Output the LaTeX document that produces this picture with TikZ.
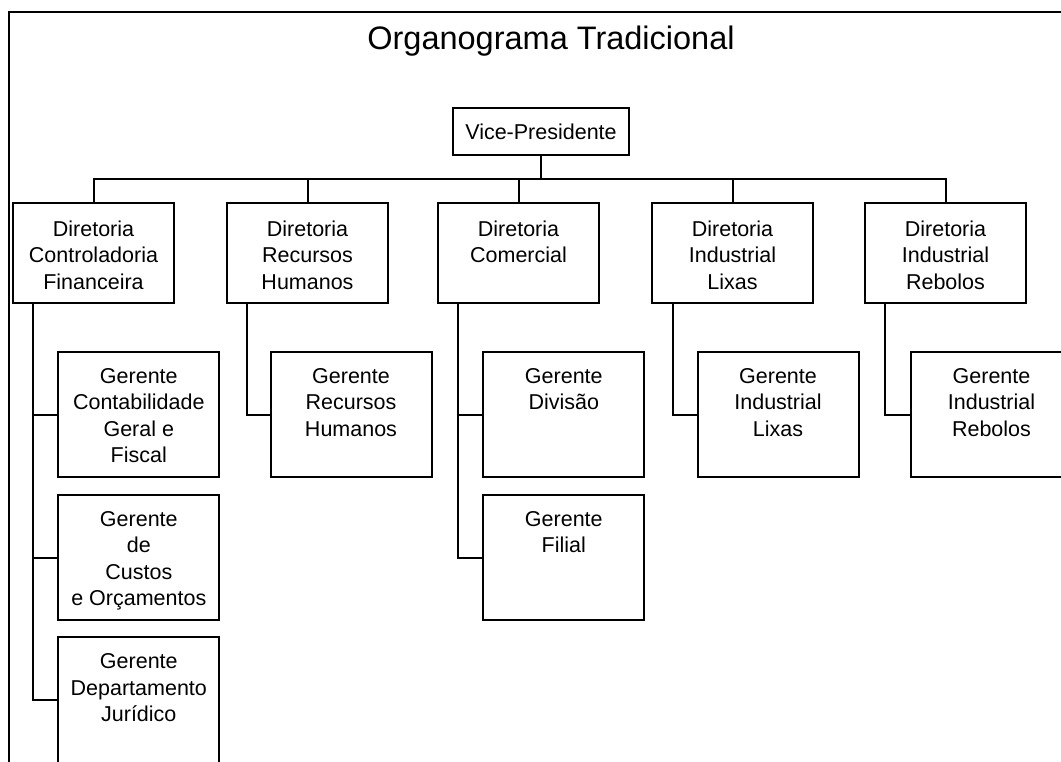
\documentclass[tikz,border=0pt]{standalone}
\usepackage{fontspec}
\setmainfont{Liberation Sans}
\begin{document}
\begin{tikzpicture}[x=1pt, y=-1pt,
  every node/.style={inner sep=0pt, outer sep=0pt},
  frame/.style={draw, line width=2pt},
  box/.style={draw, line width=2pt, fill=white},
  vpbox/.style={box, minimum width=176pt, minimum height=47pt,
    font=\fontsize{21.5}{26.5}\selectfont},
  dirbox/.style={box, minimum width=161pt, minimum height=100pt},
  mgrbox/.style={box, minimum width=161pt, minimum height=125.5pt},
  lbl/.style={align=center, anchor=north, font=\fontsize{21.5}{26.5}\selectfont},
  conn/.style={draw, line width=2pt},
  title/.style={anchor=base, font=\fontsize{32.5}{38}\selectfont}
]
\useasboundingbox (0,0) rectangle (1061,762);
\clip (0,0) rectangle (1061,762);

% outer frame (runs past the page on the right and at the bottom)
\draw[frame] (8.5,12) rectangle (1090,800);

% title
\node[title] (title) at (551,50) {Organograma Tradicional};

% top level
\node[vpbox] (vp) at (541,131.5) {Vice-Presidente};
\coordinate (bus) at (541,179.5);

% directorates
\node[dirbox] (dcf) at (93.5,253) {};
\node[dirbox] (drh) at (307.5,253) {};
\node[dirbox] (dco) at (518.5,253) {};
\node[dirbox] (dil) at (732.5,253) {};
\node[dirbox] (dir) at (945.5,253) {};

\node[lbl] (dcf-t) at ([yshift=-17.5pt]dcf.north) {Diretoria\\Controladoria\\Financeira};
\node[lbl] (drh-t) at ([yshift=-17.5pt]drh.north) {Diretoria\\Recursos\\Humanos};
\node[lbl] (dco-t) at ([yshift=-17.5pt]dco.north) {Diretoria\\Comercial};
\node[lbl] (dil-t) at ([yshift=-17.5pt]dil.north) {Diretoria\\Industrial\\Lixas};
\node[lbl] (dir-t) at ([yshift=-17.5pt]dir.north) {Diretoria\\Industrial\\Rebolos};

% managers
\node[mgrbox] (gcg) at (138.8,414.5) {};
\node[mgrbox] (gco) at (138.8,557.5) {};
\node[mgrbox] (gdj) at (138.8,700) {};
\node[mgrbox] (grh) at (351,414.5) {};
\node[mgrbox] (gdv) at (563.8,414.5) {};
\node[mgrbox] (gfl) at (563.8,557.5) {};
\node[mgrbox] (gil) at (778,414.5) {};
\node[mgrbox] (gir) at (991.5,414.5) {};

\node[lbl] (gcg-t) at ([yshift=-16.5pt]gcg.north) {Gerente\\Contabilidade\\Geral e\\Fiscal};
\node[lbl] (gco-t) at ([yshift=-16.5pt]gco.north) {Gerente\\de\\Custos\\e Orçamentos};
\node[lbl] (gdj-t) at ([yshift=-16.5pt]gdj.north) {Gerente\\Departamento\\Jurídico};
\node[lbl] (grh-t) at ([yshift=-16.5pt]grh.north) {Gerente\\Recursos\\Humanos};
\node[lbl] (gdv-t) at ([yshift=-16.5pt]gdv.north) {Gerente\\Divisão};
\node[lbl] (gfl-t) at ([yshift=-16.5pt]gfl.north) {Gerente\\Filial};
\node[lbl] (gil-t) at ([yshift=-16.5pt]gil.north) {Gerente\\Industrial\\Lixas};
\node[lbl] (gir-t) at ([yshift=-16.5pt]gir.north) {Gerente\\Industrial\\Rebolos};

% vice-president to directorates
\draw[conn] (vp.south) -- (bus);
\foreach \d in {dcf,drh,dco,dil,dir}
  \draw[conn] (\d.north) |- (bus);

% directorates to managers
\draw[conn] ([xshift=-60.5pt]dcf.south) |- (gcg.west);
\draw[conn] ([xshift=-60.5pt]dcf.south) |- (gco.west);
\draw[conn] ([xshift=-60.5pt]dcf.south) |- (gdj.west);
\draw[conn] ([xshift=-61pt]drh.south) |- (grh.west);
\draw[conn] ([xshift=-60.5pt]dco.south) |- (gdv.west);
\draw[conn] ([xshift=-60.5pt]dco.south) |- (gfl.west);
\draw[conn] ([xshift=-60pt]dil.south) |- (gil.west);
\draw[conn] ([xshift=-61pt]dir.south) |- (gir.west);
\end{tikzpicture}
\end{document}
